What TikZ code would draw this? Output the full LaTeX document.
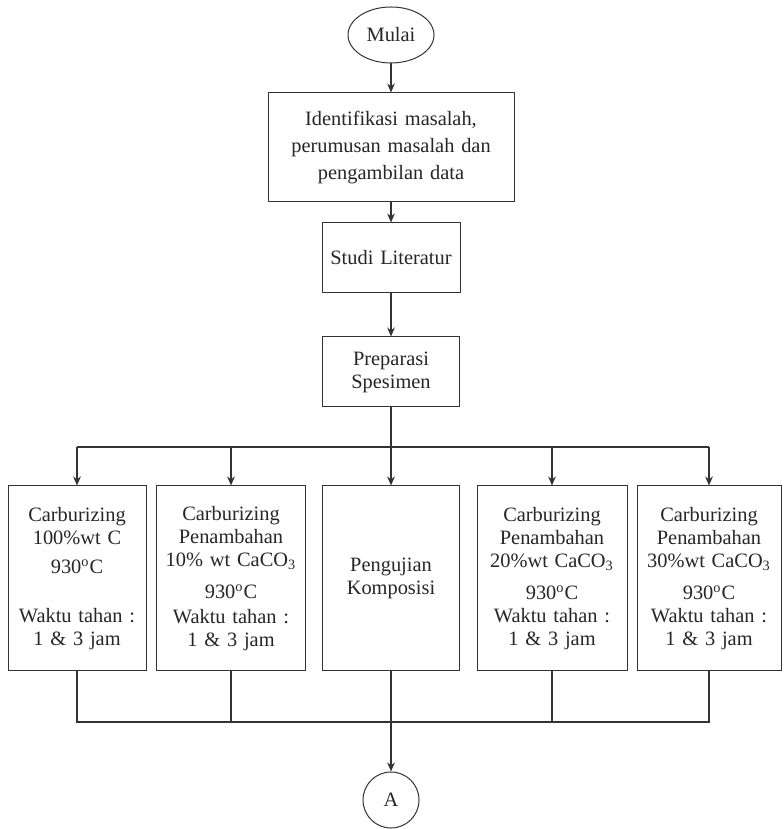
\documentclass[tikz,border=0pt]{standalone}
\usepackage{fontspec}
\setmainfont{Liberation Serif}
\usetikzlibrary{shapes.geometric,arrows.meta}

\begin{document}
\begin{tikzpicture}[x=0.5pt,y=0.5pt,font=\fontsize{10.2}{11.5}\selectfont,
  >={Stealth[length=4.5pt,width=3.8pt]},
  box/.style={draw=black!80,line width=0.5pt,align=center,inner sep=0pt,text=black!85},
  link/.style={draw=black!80,line width=0.6pt}]
  \useasboundingbox (0,0) rectangle (783,829);
  \node[box,ellipse,minimum width=43pt,minimum height=28pt] (mulai) at (391,794) {Mulai};
  \node[box,text width=123pt,minimum height=54.5pt,font=\fontsize{10.2}{13.5}\selectfont] (ident) at (391,681.5) {Identifikasi masalah,\\perumusan masalah dan\\pengambilan data};
  \node[box,text width=69pt,minimum height=35pt] (studi) at (391,571) {Studi Literatur};
  \node[box,text width=68.5pt,minimum height=35pt] (prep) at (391,457) {Preparasi\\Spesimen};
  % treatment and test boxes
  \foreach \x/\w/\name/\lab in {
    77/69/carb1/{Carburizing\\100\%wt C\\[3pt]930\textsuperscript{o}C\\[13pt]Waktu tahan :\\1 \& 3 jam},
    231/74.5/carb2/{Carburizing\\Penambahan\\10\% wt CaCO\textsubscript{3}\\[4.5pt]930\textsuperscript{o}C\\[1pt]Waktu tahan :\\1 \& 3 jam},
    391/68.5/uji/{Pengujian\\Komposisi},
    552/75/carb3/{Carburizing\\Penambahan\\20\%wt CaCO\textsubscript{3}\\[4.5pt]930\textsuperscript{o}C\\Waktu tahan :\\1 \& 3 jam},
    709/72/carb4/{Carburizing\\Penambahan\\30\%wt CaCO\textsubscript{3}\\[4.5pt]930\textsuperscript{o}C\\Waktu tahan :\\1 \& 3 jam}}{
    \node[box,text width=\w pt,minimum height=92.5pt] (\name) at (\x,250.5) {\lab};
  }
  \node[box,circle,minimum size=28pt] (A) at (391,29) {A};
  \coordinate (bus) at (391,382);
  \coordinate (join) at (391,107);
  % flow
  \draw[link,->] (mulai) -- (ident);
  \draw[link,->] (ident) -- (studi);
  \draw[link,->] (studi) -- (prep);
  \draw[link] (prep) -- (bus);
  \draw[link] (bus -| carb1) -- (bus -| carb4);
  \foreach \name in {carb1,carb2,uji,carb3,carb4}
    \draw[link,->] (bus -| \name) -- (\name);
  \foreach \name in {carb1,carb2,carb3,carb4}
    \draw[link] (\name.south) |- (join);
  \draw[link] (uji) -- (join);
  \draw[link,line width=1pt,->] (join) -- (A);
\end{tikzpicture}
\end{document}
